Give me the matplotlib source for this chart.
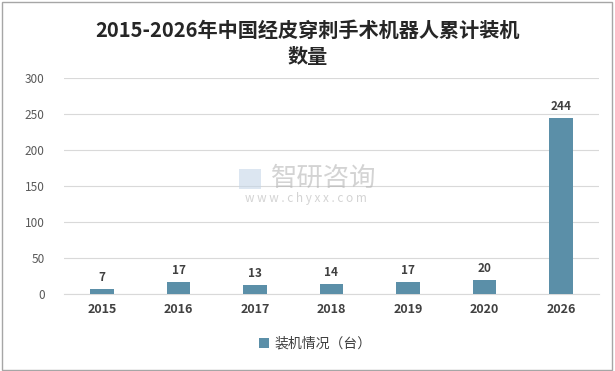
import matplotlib.pyplot as plt
from matplotlib.patches import Rectangle

plt.rcParams['font.family'] = ['Noto Sans CJK SC', 'DejaVu Sans']

# 数据
years = ['2015', '2016', '2017', '2018', '2019', '2020', '2026']
counts = [7, 17, 13, 14, 17, 20, 244]
bar_color = '#5b8fa8'

fig = plt.figure(figsize=(6.15, 3.71), dpi=100)
ax = fig.add_axes([0.104, 0.207, 0.870, 0.583])

x = range(len(years))
ax.bar(x, counts, width=0.31, color=bar_color, label='装机情况（台）', zorder=3)
for i, v in zip(x, counts):
    ax.text(i, v + 7, str(v), ha='center', va='bottom', fontsize=8.5,
            fontweight='bold', color='#404040')

ax.set_xlim(-0.5, len(years) - 0.5)
ax.set_ylim(0, 300)
ax.set_yticks(range(0, 301, 50))
ax.set_xticks(list(x))
ax.set_xticklabels(years, fontweight='bold', fontsize=9, color='#404040')
ax.tick_params(axis='y', labelsize=8.5, labelcolor='#595959', length=0, pad=14)
ax.tick_params(axis='x', length=0, pad=6)
ax.grid(axis='y', color='#d9d9d9', linewidth=0.8, zorder=0)
for s in ['top', 'right', 'left']:
    ax.spines[s].set_visible(False)
ax.spines['bottom'].set_color('#d9d9d9')

fig.text(0.5, 0.918, '2015-2026年中国经皮穿刺手术机器人累计装机', ha='center', va='center',
         fontsize=14.5, fontweight='bold', color='#262626')
fig.text(0.5, 0.848, '数量', ha='center', va='center',
         fontsize=14.5, fontweight='bold', color='#262626')

# 水印
fig.text(0.527, 0.518, '智研咨询', ha='center', va='center', fontsize=19,
         color='#b0b0b0', alpha=0.55)
fig.text(0.498, 0.465, 'w w w . c h y x x . c o m', ha='center', va='center',
         fontsize=8.5, color='#b0b0b0', alpha=0.55)
fig.patches.append(Rectangle((0.388, 0.49), 0.036, 0.055, transform=fig.transFigure,
                             facecolor='#c5d6e8', edgecolor='none', alpha=0.6))

ax.legend(loc='upper center', bbox_to_anchor=(0.47, -0.14), frameon=False,
          fontsize=10, handlelength=0.7, handleheight=0.7, handletextpad=0.4,
          labelcolor='#404040')

fig.patches.append(Rectangle((0.003, 0.004), 0.992, 0.99, transform=fig.transFigure,
                             fill=False, edgecolor='#a6a6a6', linewidth=1))

fig.savefig('out.png', dpi=100)
